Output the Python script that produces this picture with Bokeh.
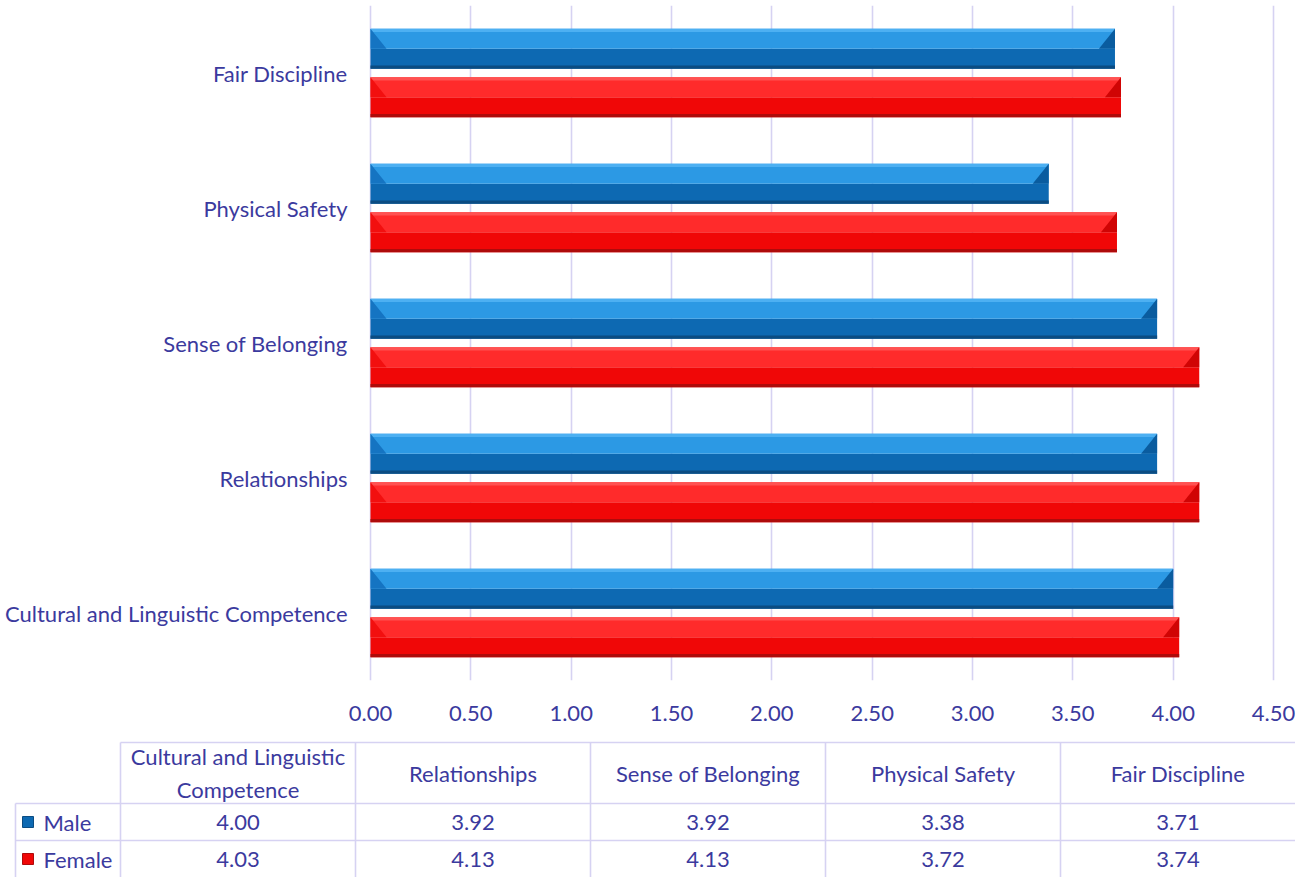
import textwrap
import numpy as np
from bokeh.plotting import figure
from bokeh.layouts import column
from bokeh.models import Range1d, FixedTicker, NumeralTickFormatter
from bokeh.core.properties import value
from bokeh.embed import file_html
from bokeh.resources import INLINE

# ---------------- data ----------------
categories = ["Cultural and Linguistic Competence", "Relationships",
              "Sense of Belonging", "Physical Safety", "Fair Discipline"]
series_names = ["Male", "Female"]
male = [4.00, 3.92, 3.92, 3.38, 3.71]
female = [4.03, 4.13, 4.13, 3.72, 3.74]
x_ticks = [0.0, 0.5, 1.0, 1.5, 2.0, 2.5, 3.0, 3.5, 4.0, 4.5]

# ---------------- styles ----------------
FONT = "Lato"
FS = "22px"
TXT = "#3B3A9E"
GRID = "#D6D2F2"
W = 1295

palette = {
    "Male":   dict(hi="#4DB0F2", up="#2C99E4", low="#0D69B2", edge="#0B4C82",
                   lb="#1574C2", rb="#0A5C9F"),
    "Female": dict(hi="#FF5252", up="#FF2B2B", low="#F00707", edge="#AE0B0B",
                   lb="#F20F0F", rb="#D00404"),
}

# value axis placement on the canvas (pixels)
PLOT_LEFT, PLOT_RIGHT = 370, 1273
scale = (PLOT_RIGHT - PLOT_LEFT) / (x_ticks[-1] - x_ticks[0])   # px per unit
x_lo = x_ticks[0] - PLOT_LEFT / scale
x_hi = x_ticks[0] + (W - PLOT_LEFT) / scale

# ---------------- chart ----------------
p = figure(width=W, height=740, x_range=Range1d(x_lo, x_hi), y_range=Range1d(0, 5),
           output_backend="svg", toolbar_location=None, y_axis_location=None,
           min_border_left=0, min_border_right=0, min_border_top=5,
           min_border_bottom=60, outline_line_color=None)

ypos = np.arange(len(categories)) + 0.5
off = 0.18
hh = 0.148
dx = 0.08

p.xgrid.grid_line_color = GRID
p.xgrid.grid_line_width = 1.6
p.xgrid.ticker = FixedTicker(ticks=x_ticks)
p.ygrid.visible = False

for name, vals, sgn in [("Male", male, 1), ("Female", female, -1)]:
    c = palette[name]
    yc = ypos + sgn * off
    v = np.array(vals)
    p.hbar(y=yc - hh / 2, height=hh, left=0, right=v, fill_color=c["low"], line_color=None)
    p.hbar(y=yc + hh / 2, height=hh, left=0, right=v, fill_color=c["up"], line_color=None)
    p.hbar(y=yc + hh - 0.012, height=0.024, left=0, right=v, fill_color=c["hi"], line_color=None)
    p.hbar(y=yc - hh + 0.012, height=0.024, left=0, right=v, fill_color=c["edge"], line_color=None)
    p.patches(xs=[[0, dx, 0] for _ in v], ys=[[y + hh, y, y] for y in yc],
              fill_color=c["lb"], line_color=None)
    p.patches(xs=[[x, x, x - dx] for x in v], ys=[[y + hh, y, y] for y in yc],
              fill_color=c["rb"], line_color=None)

# category labels (left of the value axis)
p.text(x=[x_ticks[0] - 23 / scale] * len(categories), y=ypos, text=categories,
       text_align="right", text_baseline="middle", text_font=value(FONT),
       text_font_size=value(FS), text_color=TXT)

p.xaxis.ticker = FixedTicker(ticks=x_ticks)
p.xaxis.formatter = NumeralTickFormatter(format="0.00")
ax = p.xaxis[0]
ax.axis_line_color = None
ax.major_tick_line_color = None
ax.minor_tick_line_color = None
ax.major_label_text_font = FONT
ax.major_label_text_font_size = FS
ax.major_label_text_color = TXT
ax.major_label_standoff = 19

# ---------------- data table ----------------
t = figure(width=W, height=137, x_range=Range1d(0, W), y_range=Range1d(137, 0),
           output_backend="svg", toolbar_location=None, min_border=0,
           x_axis_location=None, y_axis_location=None, outline_line_color=None)
t.grid.visible = False

col0 = 120
colw = 235
legw = 105
row_top = [2, 63, 100, 137]
cx = [col0 + colw * (i + 0.5) for i in range(len(categories))]
vx = [col0 + colw * i for i in range(len(categories))]

t.segment(x0=[col0, col0 - legw, col0 - legw], x1=[W] * 3,
          y0=row_top[:3], y1=row_top[:3], line_color=GRID, line_width=1.6)
t.segment(x0=vx, x1=vx, y0=[row_top[0]] * len(vx), y1=[row_top[3]] * len(vx),
          line_color=GRID, line_width=1.6)
t.segment(x0=[col0 - legw], x1=[col0 - legw], y0=[row_top[1]], y1=[row_top[3]],
          line_color=GRID, line_width=1.6)

headers = [textwrap.fill(c, 24) for c in categories]
t.text(x=cx, y=[(row_top[0] + row_top[1]) / 2] * len(cx), text=headers,
       text_align="center", text_baseline="middle", text_font=value(FONT),
       text_font_size=value(FS), text_color=TXT, text_line_height=1.2)

row_mid = [(row_top[1] + row_top[2]) / 2, (row_top[2] + row_top[3]) / 2]
for name, vals, ym in zip(series_names, [male, female], row_mid):
    t.text(x=cx, y=[ym] * len(cx), text=["{:.2f}".format(v) for v in vals],
           text_align="center", text_baseline="middle", text_font=value(FONT),
           text_font_size=value(FS), text_color=TXT)
    c = palette[name]
    t.scatter(x=[col0 - legw + 12.5], y=[ym], marker="square", size=11,
              fill_color=c["low"], line_color=c["edge"], line_width=1)
    t.text(x=[col0 - legw + 28], y=[ym], text=[name], text_align="left",
           text_baseline="middle", text_font=value(FONT), text_font_size=value(FS),
           text_color=TXT)

layout = column(p, t, spacing=0)
open("out.html", "w").write(file_html(layout, INLINE))
